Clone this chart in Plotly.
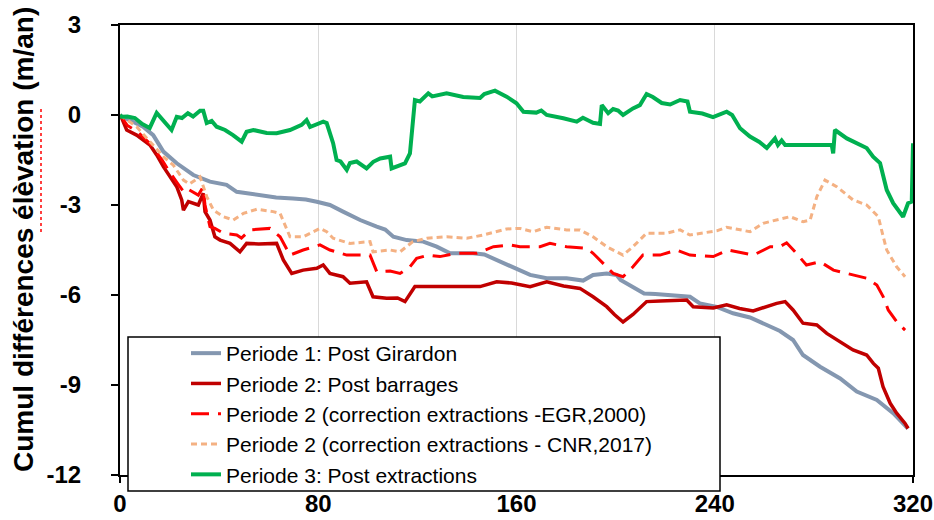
import plotly.graph_objects as go

# ---- data ----
p1_x = [0, 0.7, 4, 9.3, 13.4, 17.5, 22.9, 29.6, 36.3, 43, 47.1, 50, 56.5, 63, 69.8, 75, 79.4, 84.7, 90, 96.9,
        103.6, 107, 110.3, 115.7, 122.4, 127.8, 133.2, 142.5, 147, 153.4, 158.7, 165.5, 172.2, 180.2, 186.9,
        190.9, 196.4, 200.4, 202, 207, 211.5, 216, 222, 230, 234, 240.8, 247.4, 254.2, 261, 266.3, 271.6,
        275.6, 282.5, 290.6, 297.3, 305.4, 312, 316.8, 318]
p1_y = [0, -0.06, -0.17, -0.39, -0.67, -1.22, -1.61, -2.0, -2.22, -2.33, -2.56, -2.6, -2.67, -2.75, -2.78, -2.82,
        -2.89, -3.0, -3.22, -3.5, -3.72, -3.82, -4.06, -4.17, -4.22, -4.39, -4.61, -4.61, -4.65, -4.89, -5.11,
        -5.33, -5.44, -5.44, -5.52, -5.33, -5.28, -5.33, -5.5, -5.72, -5.95, -5.97, -6.0, -6.06, -6.28, -6.4,
        -6.61, -6.75, -7.0, -7.2, -7.5, -8.0, -8.39, -8.78, -9.22, -9.5, -9.94, -10.33, -10.45]

p2_x = [0, 0.7, 2.7, 6.7, 12.1, 14.8, 17.5, 20.2, 22.9, 24.9, 25.6, 27.6, 31.6, 33.6, 34.3, 36.3, 38.3, 40.4,
        44.4, 48.4, 51.1, 56, 63.2, 65.9, 69.3, 73.9, 79.4, 82, 84.7, 90, 92.8, 99.5, 102.1, 107.6, 112, 115,
        119, 130, 145.3, 152, 158, 165.5, 172.2, 179, 185.6, 190.9, 196.4, 199.5, 203, 207, 212.5, 218, 226,
        228.7, 231.3, 239.4, 244.8, 250, 255.5, 260, 265, 268.4, 271.6, 275.6, 281.2, 285.2, 290.6, 295.8,
        301.3, 304, 306, 307.9, 310.8, 313.4, 316.8, 318]
p2_y = [0, -0.1, -0.5, -0.67, -1.0, -1.33, -1.72, -2.06, -2.39, -2.83, -3.17, -2.89, -3.0, -2.61, -3.22, -3.5,
        -4.06, -4.17, -4.28, -4.56, -4.28, -4.3, -4.28, -4.83, -5.28, -5.17, -5.11, -5.0, -5.28, -5.39, -5.61,
        -5.56, -6.06, -6.11, -6.1, -6.22, -5.72, -5.72, -5.72, -5.56, -5.6, -5.72, -5.56, -5.7, -5.78, -6.06,
        -6.39, -6.65, -6.9, -6.65, -6.22, -6.2, -6.17, -6.17, -6.39, -6.43, -6.33, -6.45, -6.53, -6.4, -6.28,
        -6.22, -6.5, -6.94, -7.0, -7.28, -7.56, -7.83, -8.0, -8.28, -8.44, -9.06, -9.61, -9.94, -10.28, -10.45]

egr_x = [0, 3, 7, 12, 17, 20, 23, 26, 28, 31.6, 33.5, 34.3, 36.3, 38.3, 41.7, 47.1, 49, 52.5, 60.5, 64.6, 68.6,
         73.9, 80.7, 84.7, 91.5, 100.9, 103.6, 109, 113, 117, 119.7, 124.4, 129.1, 135.9, 143.9, 150.7, 157.4,
         161.4, 169.5, 173.5, 180.2, 188.3, 190.9, 195, 199, 203, 207, 211, 217.9, 224.6, 230, 239.4, 245.5,
         255.6, 262.4, 266, 269, 272.4, 277, 282.5, 287.9, 293.3, 301.3, 305.4, 308, 310, 313.4, 316.8]
egr_y = [0, -0.35, -0.55, -0.95, -1.5, -1.9, -2.25, -2.6, -2.5, -2.67, -2.4, -3.0, -3.72, -3.78, -3.94, -4.0, -4.1,
         -3.83, -3.78, -4.06, -4.67, -4.5, -4.33, -4.5, -4.67, -4.67, -5.22, -5.2, -5.28, -5.06, -4.78, -4.67,
         -4.72, -4.61, -4.61, -4.39, -4.33, -4.39, -4.39, -4.28, -4.39, -4.44, -4.61, -4.94, -5.28, -5.39, -5.06,
         -4.67, -4.67, -4.5, -4.67, -4.72, -4.5, -4.67, -4.39, -4.4, -4.26, -4.56, -5.0, -4.89, -5.17, -5.28,
         -5.44, -5.67, -6.06, -6.5, -6.89, -7.17]

cnr_x = [0, 6.7, 12.1, 17.5, 21.5, 25.6, 28, 32.3, 35, 37.7, 41.7, 45.7, 49.8, 55.2, 61.8, 64.6, 68.6, 73.9, 80.7,
         83.4, 86, 92.8, 100.9, 102.1, 109, 113, 118.2, 123.8, 131.8, 139.9, 146.5, 156, 161.4, 166.7, 172.2,
         180.2, 185.6, 190.9, 196.4, 201.8, 203, 207, 212.5, 217.9, 220.6, 226, 230, 240.8, 244.8, 254.2, 259.5,
         266.3, 270.4, 275.7, 278.5, 281.2, 284.5, 289.2, 295.8, 301.3, 306, 308, 309.4, 313.4, 316.8]
cnr_y = [0, -0.39, -0.89, -1.39, -1.67, -2.17, -2.3, -2.06, -2.72, -3.17, -3.39, -3.5, -3.28, -3.14, -3.22, -3.28,
         -4.06, -4.06, -3.78, -3.89, -4.11, -4.28, -4.22, -4.56, -4.5, -4.56, -4.22, -4.11, -4.06, -4.11, -4.0,
         -3.8, -3.78, -3.89, -3.74, -3.83, -3.83, -4.06, -4.39, -4.61, -4.67, -4.39, -3.94, -3.94, -3.94, -3.83,
         -4.0, -3.86, -3.74, -3.89, -3.61, -3.47, -3.39, -3.56, -3.5, -2.72, -2.17, -2.39, -2.83, -3.0, -3.39,
         -4.06, -4.5, -5.06, -5.39]

p3_x = [0, 0.7, 3, 6, 9, 12, 14.8, 17.5, 20.8, 22.9, 25, 27.4, 29.5, 32.3, 33.6, 35, 37, 39, 42.4, 45.6, 49.1,
        51.1, 53.8, 59.2, 63.2, 68.6, 73.3, 75.3, 76.7, 82, 83.4, 86, 87.4, 89, 91.5, 92.8, 95.5, 99.5, 102.2,
        105, 107.6, 109, 109.6, 115, 117, 119, 121, 124.4, 126, 129, 131.8, 138.5, 145.3, 147, 151.3, 156, 160,
        162.8, 168, 170, 172.2, 178.9, 184.3, 186.8, 190.9, 193.7, 194.4, 197, 199, 201, 203, 207, 209.8,
        212.5, 215, 218.6, 222, 226, 229, 230, 235, 239.3, 241.5, 244.8, 247, 250.2, 254.2, 258, 261, 263,
        264.3, 265.5, 267, 268.4, 287.2, 287.8, 288.5, 293.3, 297.3, 301.3, 303.9, 306.7, 309.4, 312, 316,
        318, 319.5, 320]
p3_y = [0, -0.06, -0.05, -0.1, -0.3, -0.43, 0.07, -0.17, -0.5, -0.06, -0.1, 0.06, -0.05, 0.14, 0.14, -0.27, -0.2,
        -0.39, -0.5, -0.67, -0.89, -0.56, -0.5, -0.6, -0.61, -0.5, -0.33, -0.17, -0.4, -0.22, -0.27, -0.94, -1.5,
        -1.55, -1.83, -1.6, -1.55, -1.78, -1.56, -1.45, -1.39, -1.39, -1.78, -1.61, -1.28, 0.5, 0.45, 0.72, 0.62,
        0.67, 0.72, 0.6, 0.57, 0.7, 0.81, 0.61, 0.39, 0.11, 0.08, 0.15, 0.0, -0.11, -0.22, -0.09, -0.26, -0.3,
        0.33, 0.06, 0.2, 0.15, 0.0, 0.22, 0.33, 0.7, 0.6, 0.4, 0.35, 0.5, 0.45, 0.11, 0.05, -0.07, 0.0, 0.11, 0.0,
        -0.44, -0.72, -0.9, -1.1, -0.9, -0.78, -1.0, -0.85, -1.0, -1.0, -1.28, -0.5, -0.78, -0.94, -1.1, -1.39,
        -1.6, -2.5, -2.94, -3.39, -2.94, -2.89, -0.94]

names = ["Periode 1: Post Girardon",
         "Periode 2: Post barrages",
         "Periode 2 (correction extractions -EGR,2000)",
         "Periode 2 (correction extractions - CNR,2017)",
         "Periode 3: Post extractions"]

y_title = "Cumul différences élèvation (m/an)"
x_ticks = [0, 80, 160, 240, 320]
y_ticks = [3, 0, -3, -6, -9, -12]

series = [
    (p1_x, p1_y, "#8497B0", 4, "solid"),
    (p2_x, p2_y, "#C00000", 3.5, "solid"),
    (egr_x, egr_y, "#FF0000", 3, "18px,9px"),
    (cnr_x, cnr_y, "#F4B183", 3, "6px,4px"),
    (p3_x, p3_y, "#00B050", 4, "solid"),
]

fig = go.Figure()
for (xs, ys, col, w, dash), nm in zip(series, names):
    fig.add_trace(go.Scatter(x=xs, y=ys, mode="lines", name=nm,
                             line=dict(color=col, width=w, dash=dash)))

tick_font = dict(family="Liberation Sans, Arial, sans-serif",
                 size=24, color="#000000", weight="bold")

PW, PH = 793.0, 450.0  # plot area in px

# legend frame (opaque, drawn above the curves)
fig.add_shape(type="rect", xref="paper", yref="paper",
              x0=8 / PW, x1=600 / PW, y0=-16 / PH, y1=138 / PH,
              fillcolor="white", line=dict(color="#000000", width=1.5), layer="above")

# y-axis title
fig.add_annotation(xref="paper", yref="paper", x=-96 / PW, y=235 / PH,
                   text=y_title, textangle=-90, showarrow=False,
                   xanchor="center", yanchor="middle",
                   font=dict(family="Liberation Sans, Arial, sans-serif", size=28,
                             color="#000000", weight="bold"))
# spell-check squiggle under "élèvation"
fig.add_shape(type="line", xref="paper", yref="paper",
              x0=-79 / PW, x1=-79 / PW, y0=(475 - 232) / PH, y1=(475 - 108) / PH,
              line=dict(color="#FF0000", width=1.5, dash="dot"))

fig.update_layout(
    width=934, height=520,
    margin=dict(l=120, r=21, t=25, b=45, autoexpand=False),
    paper_bgcolor="white", plot_bgcolor="white",
    showlegend=True,
    legend=dict(x=66 / PW, y=142 / PH, xanchor="left", yanchor="top",
                bgcolor="rgba(0,0,0,0)", borderwidth=0,
                font=dict(family="Liberation Sans, Arial, sans-serif", size=21, color="#000000"),
                tracegroupgap=0),
    xaxis=dict(range=[0, 320], tickvals=x_ticks, ticktext=[str(v) for v in x_ticks],
               showgrid=True, gridcolor="#D9D9D9", gridwidth=1,
               showline=True, linecolor="#000000", linewidth=2, mirror=True,
               ticks="outside", ticklen=6, tickwidth=2, tickcolor="#000000",
               tickfont=tick_font, zeroline=False, ticklabelstandoff=0,
               ticklabeloverflow="allow"),
    yaxis=dict(range=[-12, 3], tickvals=y_ticks, ticktext=[str(v) for v in y_ticks],
               showgrid=False, zeroline=False,
               showline=True, linecolor="#000000", linewidth=2, mirror=True,
               ticks="outside", ticklen=7, tickwidth=2, tickcolor="#000000",
               tickfont=tick_font, ticklabelstandoff=25, ticklabeloverflow="allow"),
)

fig.write_html("out.html", config={"displayModeBar": False},
               post_script="document.body.style.margin='0';document.body.style.overflow='hidden';")
